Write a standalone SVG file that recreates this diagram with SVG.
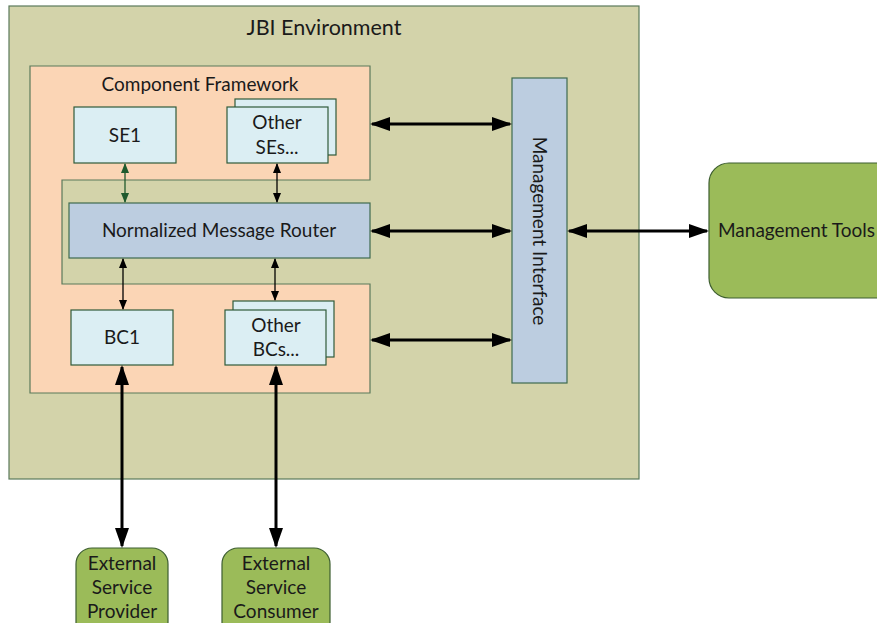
<svg xmlns="http://www.w3.org/2000/svg" width="877" height="623" viewBox="0 0 877 623">
<style>
text{font-family:Lato,"Open Sans","Liberation Sans",sans-serif;font-size:19px;fill:#1a1a1a;text-anchor:middle}
.env{fill:#d3d3aa;stroke:#5b7a5b;stroke-width:1.2}
.cf{fill:#fbd5b5;stroke:#5b7a5b;stroke-width:1.2}
.comp{fill:#dbeef3;stroke:#2f5b3a;stroke-width:1.2}
.nmr{fill:#bccde0;stroke:#3f6a4f;stroke-width:1.2}
.ext{fill:#9bbb59;stroke:#3d5e30;stroke-width:1.2}
.big{stroke:#000;stroke-width:3;fill:none;marker-start:url(#ah);marker-end:url(#ah)}
.small{stroke:#000;stroke-width:1.3;fill:none;marker-start:url(#as);marker-end:url(#as)}
.smallg{stroke:#1f5a2e;stroke-width:1.3;fill:none;marker-start:url(#asg);marker-end:url(#asg)}
</style>
<defs>
<marker id="ah" viewBox="0 0 20 14" refX="18" refY="7" markerWidth="20" markerHeight="14" markerUnits="userSpaceOnUse" orient="auto-start-reverse"><path d="M0,0L20,7L0,14z" fill="#000"/></marker>
<marker id="as" viewBox="0 0 10 8" refX="9" refY="4" markerWidth="10" markerHeight="8" markerUnits="userSpaceOnUse" orient="auto-start-reverse"><path d="M0,0L10,4L0,8z" fill="#000"/></marker>
<marker id="asg" viewBox="0 0 10 8" refX="9" refY="4" markerWidth="10" markerHeight="8" markerUnits="userSpaceOnUse" orient="auto-start-reverse"><path d="M0,0L10,4L0,8z" fill="#1f5a2e"/></marker>
</defs>
<g id="jbi-environment">
<rect class="env" x="9" y="6" width="630" height="473"/>
<text x="324" y="35" style="font-size:21.5px">JBI Environment</text>
</g>
<g id="component-framework">
<path class="cf" d="M30,66H370V180H62V284H370V393H30Z"/>
<text x="200" y="91">Component Framework</text>
</g>
<g id="se1">
<rect class="comp" x="74" y="107" width="102" height="56"/>
<text x="125" y="142">SE1</text>
</g>
<g id="other-ses">
<rect class="comp" x="235" y="99" width="101" height="56"/>
<rect class="comp" x="227" y="107" width="101" height="56"/>
<text x="277" y="129">Other</text>
<text x="277" y="154">SEs...</text>
</g>
<g id="nmr">
<rect class="nmr" x="69" y="203" width="301" height="55"/>
<text x="219" y="237">Normalized Message Router</text>
</g>
<g id="bc1">
<rect class="comp" x="71" y="310" width="102" height="55"/>
<text x="122" y="344">BC1</text>
</g>
<g id="other-bcs">
<rect class="comp" x="233" y="301" width="101" height="56"/>
<rect class="comp" x="225" y="310" width="101" height="55"/>
<text x="276" y="332">Other</text>
<text x="276" y="356">BCs...</text>
</g>
<g id="management-interface">
<rect class="nmr" x="512" y="78" width="55" height="305"/>
<text transform="translate(539,231) rotate(90)" x="0" y="6">Management Interface</text>
</g>
<g id="management-tools">
<rect class="ext" x="709" y="163" width="190" height="135" rx="20"/>
<text x="718" y="237" style="text-anchor:start">Management Tools</text>
</g>
<g id="external-provider">
<rect class="ext" x="76" y="548" width="92" height="90" rx="16"/>
<text x="122" y="570">External</text>
<text x="122" y="594">Service</text>
<text x="122" y="618">Provider</text>
</g>
<g id="external-consumer">
<rect class="ext" x="222" y="548" width="108" height="90" rx="16"/>
<text x="276" y="570">External</text>
<text x="276" y="594">Service</text>
<text x="276" y="618">Consumer</text>
</g>
<g id="connectors">
<line class="smallg" x1="125" y1="164" x2="125" y2="202"/>
<line class="small" x1="277" y1="164" x2="277" y2="202"/>
<line class="small" x1="123" y1="259" x2="123" y2="309"/>
<line class="small" x1="275" y1="259" x2="275" y2="300"/>
<line class="big" x1="372" y1="124" x2="510" y2="124"/>
<line class="big" x1="372" y1="231" x2="510" y2="231"/>
<line class="big" x1="372" y1="340" x2="510" y2="340"/>
<line class="big" x1="569" y1="231" x2="707" y2="231"/>
<line class="big" x1="122" y1="367" x2="122" y2="546"/>
<line class="big" x1="276" y1="367" x2="276" y2="546"/>
</g>
</svg>
